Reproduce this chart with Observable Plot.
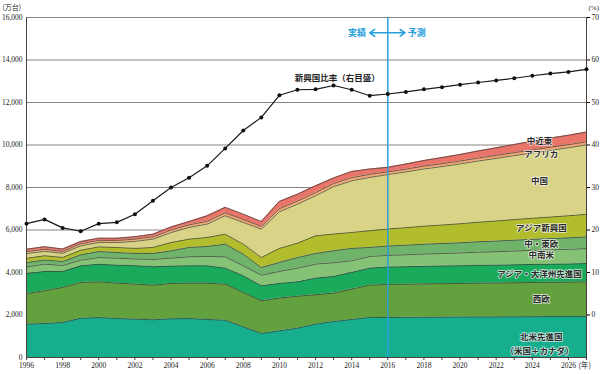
<!DOCTYPE html>
<html>
<head>
<meta charset="utf-8">
<script src="https://cdn.jsdelivr.net/npm/d3@7"></script>
<script src="https://cdn.jsdelivr.net/npm/@observablehq/plot@0.6"></script>
<style>
  html, body { margin: 0; padding: 0; background: #fff; }
  #chart svg { display: block; }
</style>
</head>
<body>
<div id="chart"></div>
<script>
const years = [1996,1997,1998,1999,2000,2001,2002,2003,2004,2005,2006,2007,2008,2009,2010,2011,2012,2013,2014,2015,2016,2017,2018,2019,2020,2021,2022,2023,2024,2025,2026,2027];

const regions = ["北米先進国", "西欧", "アジア・大洋州先進国", "中南米", "中・東欧", "アジア新興国", "中国", "アフリカ", "中近東"];
const colors = ["#17ae8e", "#63a03e", "#19aa5c", "#86c275", "#70b36a", "#b2bd2e", "#d9d387", "#f3a46f", "#e9746a"];

// 万台
const northAmerica = [1570,1600,1650,1850,1880,1835,1805,1775,1820,1835,1790,1755,1445,1130,1255,1380,1570,1695,1790,1885,1885,1890,1895,1900,1905,1910,1910,1915,1920,1925,1925,1930];
const westEurope   = [1440,1540,1650,1680,1680,1665,1650,1630,1665,1665,1710,1695,1615,1540,1540,1505,1380,1335,1430,1520,1555,1560,1570,1575,1580,1590,1595,1600,1610,1615,1620,1630];
const asiaPacAdv   = [940,910,750,785,830,845,865,865,815,815,815,755,785,705,690,675,785,785,785,800,815,820,825,830,830,835,840,845,850,850,855,860];
const latinAmerica = [310,345,280,265,315,330,315,345,375,425,440,535,470,500,565,645,660,645,550,550,550,565,580,590,605,620,635,650,660,675,690,705];
const centEastEur  = [205,190,190,250,280,265,265,280,345,440,470,595,550,360,425,500,500,565,580,425,440,450,460,470,480,490,500,510,520,530,540,550];
const asiaEmerging = [205,205,190,220,220,235,235,285,390,390,425,470,470,470,660,675,830,785,750,785,800,825,850,870,895,920,945,970,995,1015,1040,1065];
const china        = [220,205,190,205,205,235,330,390,470,550,630,865,1020,1335,1725,1835,1885,2230,2430,2510,2560,2625,2690,2750,2815,2880,2945,3010,3075,3140,3200,3265];
const africa       = [90,100,90,100,100,100,105,110,120,125,130,140,140,130,145,150,150,150,150,145,130,130,135,135,135,140,140,140,140,145,145,145];
const middleEast   = [115,120,115,105,105,105,115,125,145,155,260,255,250,230,340,320,320,260,290,250,215,240,265,290,310,335,360,385,410,430,445,460];

// 新興国比率 (%)
const emergingRatio = [21.5,22.5,20.5,19.7,21.5,21.8,23.7,26.9,30.0,32.3,35.1,39.2,43.4,46.5,51.7,53.0,53.1,54.0,53.0,51.6,52.0,52.5,53.1,53.6,54.2,54.7,55.2,55.7,56.3,56.8,57.2,57.8];

const leftTicks = [0,2000,4000,6000,8000,10000,12000,14000,16000];
const rightTicks = [0,10,20,30,40,50,60,70];
const xLabelYears = [1996,1998,2000,2002,2004,2006,2008,2010,2012,2014,2016,2018,2020,2022,2024,2026];

const seriesValues = [northAmerica, westEurope, asiaPacAdv, latinAmerica, centEastEur, asiaEmerging, china, africa, middleEast];

// area labels (text annotations in data coordinates)
const labelText = ["中近東", "アフリカ", "中国", "アジア新興国", "中・東欧", "中南米", "アジア・大洋州先進国", "西欧", "北米先進国", "（米国＋カナダ）"];
const labelYear = [2024.4, 2024.5, 2024.4, 2024.5, 2024.5, 2024.5, 2024.4, 2024.5, 2024.5, 2024.4];
const labelValue = [10160, 9580, 8270, 6100, 5350, 4790, 3940, 2760, 930, 310];

// build tables
const rows = [];
regions.forEach((r, i) => years.forEach((y, j) => rows.push({year: y, region: r, value: seriesValues[i][j]})));
const ratioRows = years.map((y, j) => ({year: y, ratio: emergingRatio[j]}));
const labels = labelText.map((t, i) => ({text: t, year: labelYear[i], value: labelValue[i]}));

// right axis: 0% = 2000, 70% = 16000
const pctToY = p => 2000 + 200 * p;

const serif = "'Liberation Serif', 'DejaVu Serif', serif";
const jp = "'Noto Sans CJK JP', 'Noto Sans', sans-serif";
const blue = "#29a0dc";

const chart = Plot.plot({
  width: 600,
  height: 374,
  marginLeft: 26,
  marginRight: 14,
  marginTop: 17,
  marginBottom: 17,
  style: {fontFamily: serif, fontSize: "7.5px", background: "#fff"},
  x: {domain: [1996, 2027], axis: null},
  y: {domain: [0, 16000], axis: null},
  color: {domain: regions, range: colors},
  marks: [
    Plot.gridY(leftTicks.slice(1), {stroke: "#8a8282", strokeOpacity: 1, strokeWidth: 1}),
    Plot.areaY(rows, {x: "year", y: "value", z: "region", fill: "region", order: regions}),
    Plot.lineY(rows, Plot.stackY2({x: "year", y: "value", z: "region", order: regions, stroke: "#3a3a3a", strokeWidth: 0.7})),
    Plot.ruleX([1996, 2027], {stroke: "#4a4040", strokeWidth: 1}),
    Plot.ruleY([0], {stroke: "#4a4040", strokeWidth: 1}),
    Plot.ruleX([2016], {stroke: blue, strokeWidth: 1.5}),
    Plot.axisY(leftTicks, {anchor: "left", label: null, tickSize: 0, tickPadding: 4, tickFormat: d3.format(","), fontFamily: serif, fontSize: 7.5, fill: "#222"}),
    Plot.axisY(rightTicks.map(pctToY), {anchor: "right", label: null, tickSize: 3, tickPadding: 2, tickFormat: d => String(Math.round((d - 2000) / 200)), fontFamily: serif, fontSize: 7.5, fill: "#222"}),
    Plot.axisX(years, {anchor: "bottom", label: null, tickSize: 3, tickPadding: 2, tickFormat: () => "", stroke: "#444"}),
    Plot.axisX(xLabelYears, {anchor: "bottom", label: null, tickSize: 0, tickPadding: 5, tickFormat: d => String(d), fontFamily: serif, fontSize: 7.5, fill: "#222"}),
    Plot.text(["(年)"], {x: 2026, y: 0, dx: 10, dy: 8.5, textAnchor: "start", fontFamily: jp, fontSize: 7.5, fill: "#222"}),
    Plot.text(["(万台)"], {frameAnchor: "top-left", dx: -24, dy: -12.5, textAnchor: "start", fontFamily: jp, fontSize: 7, fill: "#222"}),
    Plot.text(["(%)"], {frameAnchor: "top-right", dx: 2, dy: -12.5, textAnchor: "start", fontFamily: serif, fontSize: 7, fill: "#222"}),
    // ratio line
    Plot.line(ratioRows, {x: "year", y: d => pctToY(d.ratio), stroke: "#1a1a1a", strokeWidth: 1.2}),
    Plot.dot(ratioRows, {x: "year", y: d => pctToY(d.ratio), r: 2, fill: "#111", stroke: "none"}),
    Plot.text(["新興国比率（右目盛）"], {x: 2013.2, y: 13150, fontFamily: jp, fontSize: 8.5, fontWeight: "bold", fill: "#222"}),
    // actual / forecast
    Plot.arrow([{x1: 2016, x2: 2015.0}, {x1: 2016, x2: 2016.95}], {x1: "x1", x2: "x2", y1: () => 15280, y2: () => 15280, stroke: blue, strokeWidth: 1.6, headLength: 6, headAngle: 70}),
    Plot.text(["実績"], {x: 2014.3, y: 15280, fontFamily: jp, fontSize: 9, fontWeight: "bold", fill: blue}),
    Plot.text(["予測"], {x: 2017.6, y: 15280, fontFamily: jp, fontSize: 9, fontWeight: "bold", fill: blue}),
    // area labels
    Plot.text(labels, {x: "year", y: "value", text: "text", fontFamily: jp, fontSize: 8.5, fontWeight: "bold", fill: "#2a2a2a", stroke: "rgba(255,255,255,0.75)", strokeWidth: 1.6, paintOrder: "stroke"})
  ]
});

document.getElementById("chart").appendChild(chart);
</script>
</body>
</html>
